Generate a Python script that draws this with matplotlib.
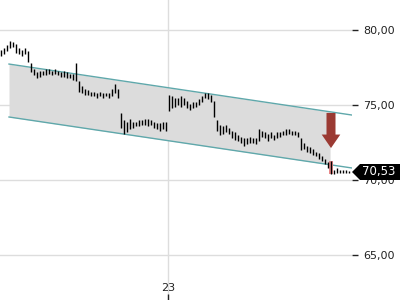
import matplotlib.pyplot as plt
from matplotlib.patches import FancyArrow, Polygon, Rectangle
import numpy as np

# bar highs / lows, one per bar (index = bar number)
highs = [78.7, 78.8, 79.0, 79.3, 79.2, 79.1, 78.8, 78.7, 78.8, 78.6,
         77.8, 77.4, 77.2, 77.3, 77.3, 77.4, 77.4, 77.3, 77.4, 77.3,
         77.2, 77.3, 77.2, 77.1, 77.1, 77.8, 76.6, 76.3, 76.1, 76.0,
         75.9, 75.9, 75.8, 75.9, 75.8, 75.8, 75.8, 76.1, 76.4, 76.1,
         74.5, 74.0, 73.9, 74.1, 73.9, 73.9, 74.0, 74.0, 74.1, 74.1,
         74.0, 73.9, 73.8, 73.8, 73.9, 73.9, 75.7, 75.6, 75.5, 75.5,
         75.6, 75.5, 75.3, 75.1, 75.2, 75.2, 75.4, 75.6, 75.8, 75.8,
         75.7, 75.3, 74.0, 73.7, 73.6, 73.7, 73.5, 73.3, 73.2, 73.0,
         72.9, 72.8, 72.8, 72.9, 72.8, 72.8, 73.4, 73.3, 73.2, 73.1,
         73.2, 73.0, 73.2, 73.2, 73.3, 73.4, 73.4, 73.3, 73.3, 73.2,
         72.8, 72.5, 72.3, 72.2, 72.1, 71.9, 71.8, 71.6, 71.4, 71.2,
         71.3, 70.7, 70.8, 70.7, 70.7, 70.7, 70.6]
lows = [78.3, 78.4, 78.6, 78.8, 78.9, 78.5, 78.4, 78.3, 78.4, 77.9,
        77.2, 77.0, 76.8, 76.9, 77.0, 77.0, 77.1, 77.0, 77.1, 77.0,
        76.9, 76.9, 76.8, 76.8, 76.7, 76.6, 75.9, 75.8, 75.7, 75.7,
        75.6, 75.6, 75.5, 75.6, 75.5, 75.6, 75.5, 75.6, 75.8, 75.5,
        73.5, 73.1, 73.2, 73.4, 73.5, 73.6, 73.6, 73.7, 73.7, 73.6,
        73.7, 73.5, 73.4, 73.3, 73.4, 73.3, 74.6, 74.8, 74.9, 75.0,
        74.9, 75.0, 74.8, 74.7, 74.8, 74.9, 75.0, 75.2, 75.5, 75.4,
        75.2, 74.2, 73.3, 73.0, 73.1, 73.2, 73.1, 72.8, 72.7, 72.6,
        72.5, 72.3, 72.4, 72.5, 72.5, 72.4, 72.6, 72.9, 72.8, 72.6,
        72.8, 72.7, 72.8, 72.9, 73.0, 73.0, 73.1, 73.0, 73.0, 72.9,
        72.0, 72.1, 71.9, 71.8, 71.7, 71.6, 71.4, 71.3, 71.1, 70.8,
        70.4, 70.4, 70.5, 70.5, 70.5, 70.5, 70.5]

# trend channel (bar index, price)
chan_x = [2.67, 117.0]
chan_upper = [77.73, 74.33]
chan_lower = [74.20, 70.80]
fill_end = 109.7

signal_bar = 110
arrow_top = 74.47
arrow_bottom = 72.13
last_price = 70.53

day_ticks = [55.7]
day_labels = ['23']
y_ticks = [65, 70, 75, 80]

fig = plt.figure(figsize=(4, 3), dpi=100)
ax = fig.add_axes([0, 0, 352 / 400, 1])
ax.set_xlim(-0.33, 117.0)
ax.set_ylim(62, 82)

for s in ax.spines.values():
  s.set_visible(False)

ax.set_yticks(y_ticks)
ax.set_yticklabels([('%.2f' % v).replace('.', ',') for v in y_ticks])
ax.yaxis.tick_right()
ax.tick_params(axis='y', direction='out', length=4, width=1, pad=4,
               labelsize=8, colors='#222222')
ax.set_xticks(day_ticks)
ax.set_xticklabels(day_labels)
ax.tick_params(axis='x', direction='in', length=4, width=1, pad=-12,
               labelsize=8, colors='#222222')
ax.grid(True, color='#dddddd', linewidth=1)
ax.set_axisbelow(True)

# channel fill and lines
fx = [chan_x[0], fill_end]
ax.fill_between(fx, np.interp(fx, chan_x, chan_lower), np.interp(fx, chan_x, chan_upper),
                color='#dcdcdc', zorder=1, linewidth=0)
ax.plot(chan_x, chan_upper, color='#5fa8ab', linewidth=1, zorder=2)
ax.plot(chan_x, chan_lower, color='#5fa8ab', linewidth=1, zorder=2)

# highlight signal bar
ax.add_patch(Rectangle((signal_bar - 0.6, lows[signal_bar]), 1.2,
                       highs[signal_bar] - lows[signal_bar],
                       color='#e8898a', zorder=3, linewidth=0))

idx = np.arange(len(highs))
ax.vlines(idx, lows, highs, color='black', linewidth=1.0, zorder=4)

ax.add_patch(FancyArrow(signal_bar, arrow_top, 0, arrow_bottom - arrow_top,
                        width=3.0, head_width=6.2, head_length=0.9,
                        length_includes_head=True, color='#9b3a33',
                        linewidth=0, zorder=5))

# last price tag on the right
fig.patches.append(Polygon([[352 / 400, 1 - 172 / 300], [360 / 400, 1 - 164 / 300],
                            [1.0, 1 - 164 / 300], [1.0, 1 - 180 / 300],
                            [360 / 400, 1 - 180 / 300]],
                           closed=True, transform=fig.transFigure,
                           facecolor='black', edgecolor='none', zorder=10))
fig.text(379 / 400, 1 - 172 / 300, ('%.2f' % last_price).replace('.', ','),
         color='white', fontsize=8.5, ha='center', va='center', zorder=11)

plt.savefig('out.png', dpi=100)
plt.close()
